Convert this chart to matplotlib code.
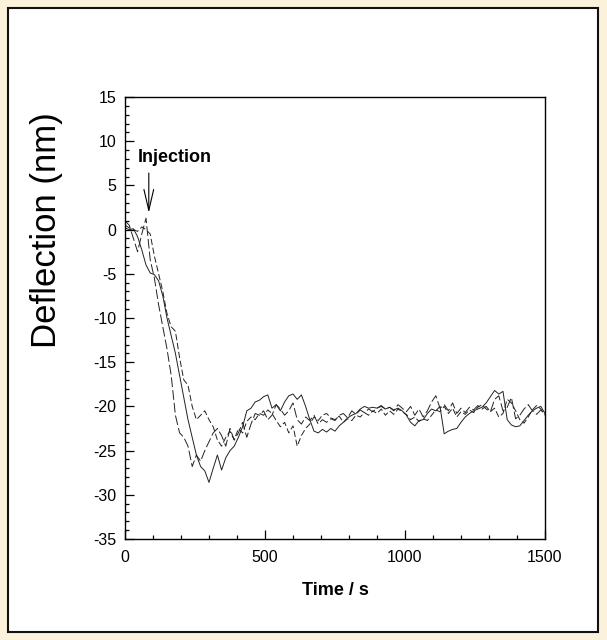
import numpy as np
import matplotlib
matplotlib.use("Agg")
import matplotlib.pyplot as plt
from matplotlib.patches import Rectangle
from matplotlib.ticker import MultipleLocator

plt.rcParams['font.family'] = ['Liberation Sans', 'DejaVu Sans']
plt.rcParams['lines.scale_dashes'] = False
plt.rcParams['axes.unicode_minus'] = False

# time grid (s)
time_s = np.arange(0, 1501, 15)

solid_trace = [
    0.2, 0.0, 0.1, -0.8, -2.3, -4.0, -4.9, -5.1, -5.8, -7.5,
    -10.0, -12.0, -14.0, -16.5, -19.0, -21.5, -23.5, -25.5, -26.8, -27.3,
    -28.6, -27.0, -25.5, -27.2, -25.8, -25.0, -24.5, -23.5, -22.3, -20.5,
    -20.2, -19.5, -19.3, -18.9, -18.7, -20.2, -19.8, -20.5, -19.5, -18.8,
    -18.6, -19.2, -18.7, -20.0, -21.5, -22.8, -23.0, -22.6, -22.9, -22.5,
    -22.8, -22.2, -21.8, -21.3, -21.0, -20.8, -20.3, -20.0, -20.2, -20.1,
    -20.2, -20.0, -20.3, -20.1, -20.4, -20.2, -20.5, -21.0, -21.8, -22.2,
    -21.6, -21.5, -20.8, -20.3, -20.5, -20.0, -23.1, -22.8, -22.6, -22.5,
    -21.8, -21.2, -20.8, -20.5, -20.3, -20.1, -19.6, -18.9, -18.2, -18.6,
    -18.3, -21.5, -22.1, -22.3, -22.2, -21.6, -21.0, -20.5, -20.2, -20.0,
    -20.8,
]

dashed_trace_a = [
    1.0, 0.5, -1.0, -2.5, -0.5, 1.3, -3.4, -5.5, -8.5, -11.0,
    -13.5, -16.5, -21.0, -23.0, -23.5, -24.5, -26.8, -25.5, -26.2, -25.0,
    -24.0, -23.0, -22.5, -23.3, -24.5, -22.5, -23.8, -23.0, -21.8, -23.5,
    -22.0, -20.8, -21.0, -20.5, -21.5, -21.0, -19.8, -20.3, -21.0, -20.5,
    -19.6, -21.5, -22.0, -21.2, -21.6, -21.0, -22.0, -21.5, -21.8, -21.4,
    -21.6, -21.0, -20.8, -21.3, -20.5, -20.9, -20.4, -20.7, -20.3, -20.6,
    -20.2, -19.9, -20.3, -20.1, -20.5, -19.8, -20.2, -20.6, -20.0, -21.0,
    -20.3, -21.2, -20.5, -19.5, -18.8, -20.2, -19.8, -20.5, -19.6, -20.8,
    -20.2, -20.7, -20.1, -20.4, -19.9, -20.3, -20.0, -20.6, -19.2, -18.8,
    -20.5, -20.1, -19.0, -21.4, -21.0, -20.3, -19.8, -20.5, -20.9, -20.4,
    -20.9,
]

dashed_trace_b = [
    0.5, 0.2, 0.0, -0.2, 0.3, 0.0, -0.5, -3.0, -5.0, -7.0,
    -9.5, -11.0, -11.5, -14.5, -17.0, -17.6, -20.0, -21.5, -21.0, -20.5,
    -21.5, -22.3, -23.8, -24.5, -23.5, -22.8, -23.8, -22.5, -23.0, -21.7,
    -21.2, -21.5, -20.8, -21.0, -20.4, -20.8, -21.6, -22.3, -21.8, -23.0,
    -22.2, -24.5, -23.3, -22.5, -22.0, -21.2, -21.6, -21.0, -20.8, -21.3,
    -21.5, -21.1, -21.8, -21.4, -21.6, -21.0, -21.2, -20.7, -21.0, -20.5,
    -20.8, -20.3, -21.0, -20.5, -20.9, -20.3, -20.6, -20.9, -21.5, -21.2,
    -21.7, -21.4, -21.6, -21.0, -20.4, -20.6, -20.0, -20.8, -20.2, -21.2,
    -20.6, -20.9, -20.4, -20.7, -20.1, -19.8, -20.3, -20.6, -20.2, -21.2,
    -20.8, -19.2, -19.6, -20.5, -21.5, -21.9, -21.2, -20.4, -19.9, -20.3,
    -21.0,
]

x_ticks = [0, 500, 1000, 1500]
y_ticks = [15, 10, 5, 0, -5, -10, -15, -20, -25, -30, -35]

W, H = 607, 640
fig = plt.figure(figsize=(W / 100, H / 100), dpi=100)
fig.patch.set_facecolor('#FCF1DA')

# background axes carrying the white framed panel
bg = fig.add_axes([0, 0, 1, 1], zorder=-5)
bg.set_xlim(0, W)
bg.set_ylim(H, 0)
bg.axis('off')
bg.add_patch(Rectangle((8, 8), 590, 624, facecolor='white', edgecolor='#111111',
                       linewidth=1.5))

ax = fig.add_axes([125 / W, 1 - 539 / H, 420 / W, 442 / H], zorder=1)
ax.set_facecolor('white')

lc = '#222222'
ax.plot(time_s, solid_trace, color=lc, lw=0.7)
ax.plot(time_s, dashed_trace_a, color=lc, lw=0.7, dashes=(7, 2.2))
ax.plot(time_s, dashed_trace_b, color=lc, lw=0.7, dashes=(4.5, 2))

ax.set_xlim(0, 1500)
ax.set_ylim(-35, 15)
ax.set_xticks(x_ticks)
ax.set_yticks(y_ticks)
ax.xaxis.set_minor_locator(MultipleLocator(100))
ax.yaxis.set_minor_locator(MultipleLocator(1))
ax.tick_params(which='both', direction='in', top=False, right=False, labelsize=11.5,
               color='black', width=0.9)
ax.tick_params(which='major', length=6.5)
ax.tick_params(which='minor', length=3)
ax.tick_params(axis='x', pad=8)
ax.tick_params(axis='y', pad=6)
for sp in ax.spines.values():
    sp.set_linewidth(1.0)
    sp.set_color('black')

ax.set_xlabel('Time / s', fontsize=13, fontweight='bold', labelpad=12)
fig.text(47 / W, 1 - 230 / H, 'Deflection (nm)', rotation=90, ha='center', va='center',
         fontsize=25)

ax.text(46, 8.2, 'Injection', fontsize=13, fontweight='bold', ha='left', va='center')
ax.annotate('', xy=(85, 1.9), xytext=(85, 6.4),
            arrowprops=dict(arrowstyle='->,head_length=1.5,head_width=0.35', lw=0.8,
                            color='black', mutation_scale=10, shrinkA=0, shrinkB=0))

fig.savefig('out.png', dpi=100, facecolor=fig.get_facecolor())
